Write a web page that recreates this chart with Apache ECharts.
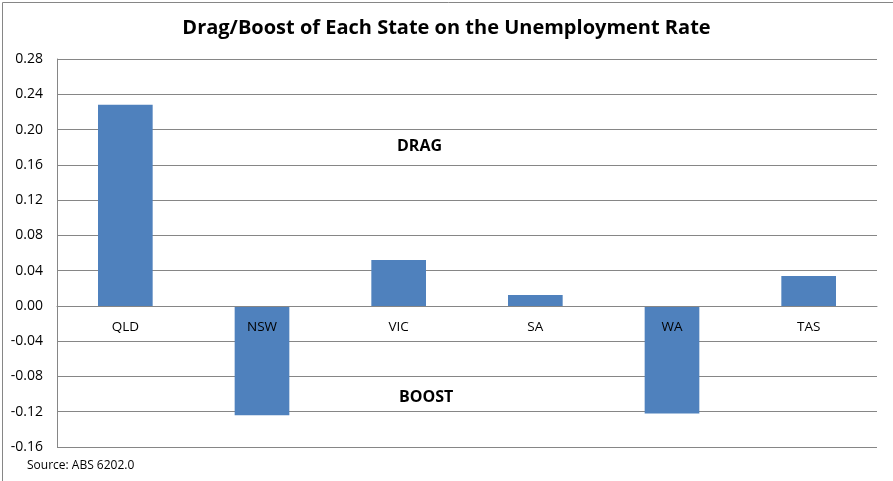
<!DOCTYPE html>
<html><head><meta charset="utf-8">
<script src="https://cdn.jsdelivr.net/npm/echarts@6/dist/echarts.min.js"></script>
<style>html,body{margin:0;padding:0;background:#fff}#c{width:893px;height:481px}</style>
</head><body><div id="c"></div>
<script>
const categories = ['QLD','NSW','VIC','SA','WA','TAS'];
const values = [0.228, -0.124, 0.052, 0.0125, -0.122, 0.034];
const yTicks = {min: -0.16, max: 0.28, interval: 0.04};
const titleText = 'Drag/Boost of Each State on the Unemployment Rate';
const sourceText = 'Source: ABS 6202.0';

const chart = echarts.init(document.getElementById('c'));
const font = 'Open Sans';
chart.setOption({
  animation: false,
  backgroundColor: '#fff',
  title: {
    text: titleText, left: 'center', top: 13,
    textStyle: {fontFamily: font, fontSize: 20, fontWeight: 'bold', color: '#000'}
  },
  grid: {left: 57, right: 16, top: 59, bottom: 34, containLabel: false},
  xAxis: {
    type: 'category', data: categories, z: 10,
    offset: -141,
    axisLine: {onZero: false, lineStyle: {color: '#868686', width: 1}},
    axisTick: {show: false},
    axisLabel: {margin: 14, fontFamily: font, fontSize: 13.5, color: '#000'},
    splitLine: {show: false}
  },
  yAxis: {
    type: 'value', min: yTicks.min, max: yTicks.max, interval: yTicks.interval,
    axisLine: {show: true, lineStyle: {color: '#868686', width: 1}},
    axisTick: {show: false},
    axisLabel: {margin: 14, fontFamily: font, fontSize: 14, color: '#000', formatter: v => v.toFixed(2)},
    splitLine: {lineStyle: {color: '#868686', width: 1}}
  },
  series: [{
    type: 'bar', data: values, barWidth: '40%',
    itemStyle: {color: '#4f81bd'}
  }],
  graphic: [
    {type: 'rect', left: 0, top: 0, shape: {width: 892, height: 480}, style: {fill: 'none', stroke: '#868686', lineWidth: 1}, silent: true, z: -1},
    {type: 'text', left: 397, top: 138, style: {text: 'DRAG', fontFamily: font, fontSize: 16, fontWeight: 'bold', fill: '#000'}},
    {type: 'text', left: 399, top: 389, style: {text: 'BOOST', fontFamily: font, fontSize: 16, fontWeight: 'bold', fill: '#000'}},
    {type: 'text', left: 27, top: 460, style: {text: sourceText, fontFamily: font, fontSize: 12, fill: '#000'}}
  ]
});
</script></body></html>
